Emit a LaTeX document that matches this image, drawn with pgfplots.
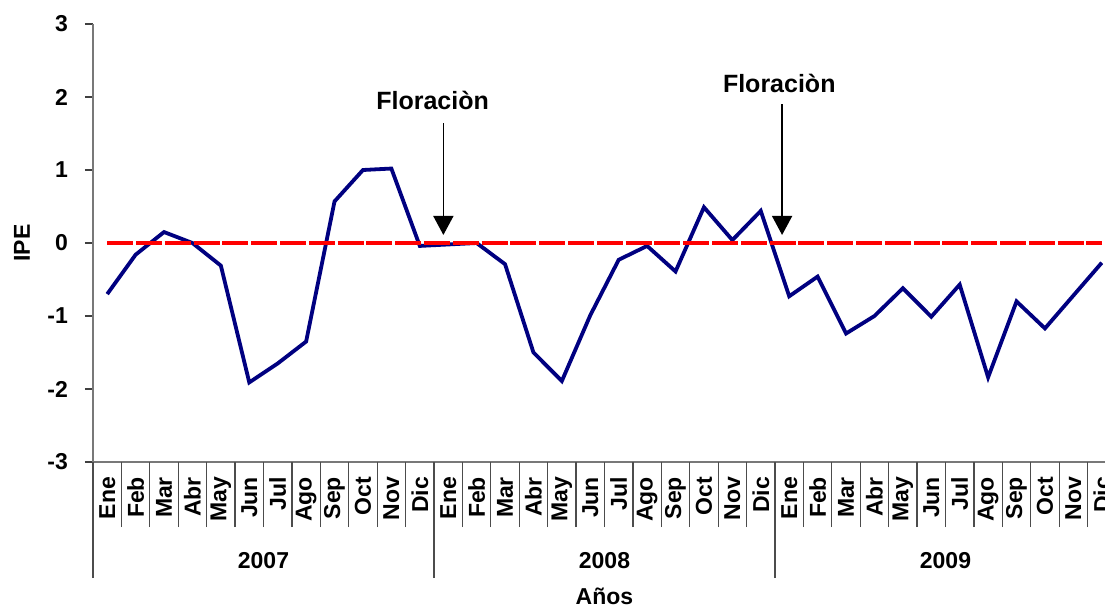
\documentclass[border=0pt]{standalone}
\usepackage{fontspec}
\setmainfont{Liberation Sans}
\usepackage{pgfplots}
\pgfplotsset{compat=1.18}
\usetikzlibrary{arrows.meta}

\definecolor{navyline}{RGB}{0,0,128}
\definecolor{axgray}{RGB}{120,120,120}

\begin{document}
\begin{tikzpicture}
\begin{axis}[
  scale only axis,
  width=511.5pt, height=219pt,
  xmin=-0.5, xmax=35.5,
  ymin=-3, ymax=3,
  axis lines=left,
  axis line style={-, axgray, line width=0.8pt},
  clip=false,
  ytick={-3,...,3},
  yticklabels={-3,-2,-1,0,1,2,3},
  tick align=outside,
  major tick length=4pt,
  ytick style={black!75, line width=0.6pt},
  yticklabel style={font=\bfseries\fontsize{11.5}{13}\selectfont, xshift=-5pt},
  xtick={0,...,35},
  xticklabels={Ene,Feb,Mar,Abr,May,Jun,Jul,Ago,Sep,Oct,Nov,Dic,
               Ene,Feb,Mar,Abr,May,Jun,Jul,Ago,Sep,Oct,Nov,Dic,
               Ene,Feb,Mar,Abr,May,Jun,Jul,Ago,Sep,Oct,Nov,Dic},
  xtick style={draw=none},
  xticklabel style={rotate=90, anchor=east, font=\bfseries\fontsize{11.5}{13}\selectfont},
  extra x ticks={-0.5,0.5,...,35.5},
  extra x tick labels={},
  extra x tick style={major tick length=32.5pt,
    every x tick/.style={draw=black!70, line width=0.6pt}},
  minor xtick={-0.5,11.5,23.5,35.5},
  minor tick length=58pt,
  minor x tick style={draw=black!70, line width=0.6pt},
]
\addplot[navyline, line width=1.9pt, line join=miter] coordinates {
(0,-0.70) (1,-0.16) (2,0.15) (3,0.00) (4,-0.31) (5,-1.91)
(6,-1.65) (7,-1.35) (8,0.57) (9,1.00) (10,1.02) (11,-0.04)
(12,-0.02) (13,0.00) (14,-0.29) (15,-1.50) (16,-1.89) (17,-0.99)
(18,-0.23) (19,-0.04) (20,-0.39) (21,0.49) (22,0.04) (23,0.44)
(24,-0.73) (25,-0.46) (26,-1.24) (27,-1.00) (28,-0.62) (29,-1.01)
(30,-0.57) (31,-1.84) (32,-0.80) (33,-1.17) (34,-0.72) (35,-0.27)
};
\addplot[red, line width=1.9pt, dash pattern=on 13pt off 1.4pt] coordinates {(0,0) (35,0)};

% flowering marks
\draw[line width=0.8pt, -{Triangle[width=10pt, length=9.5pt]}] (axis cs:11.83,1.64) -- (axis cs:11.83,0.11);
\draw[line width=0.8pt, -{Triangle[width=10pt, length=9.5pt]}] (axis cs:23.75,1.90) -- (axis cs:23.75,0.11);
\node[font=\bfseries\fontsize{12.5}{14}\selectfont] at (axis cs:11.45,1.95) {Floraciòn};
\node[font=\bfseries\fontsize{12.5}{14}\selectfont] at (axis cs:23.65,2.19) {Floraciòn};

% years and axis titles
\node[font=\bfseries\fontsize{11.5}{13}\selectfont] at ([yshift=-49.25pt]axis cs:5.5,-3) {2007};
\node[font=\bfseries\fontsize{11.5}{13}\selectfont] at ([yshift=-49.25pt]axis cs:17.5,-3) {2008};
\node[font=\bfseries\fontsize{11.5}{13}\selectfont] at ([yshift=-49.25pt]axis cs:29.5,-3) {2009};
\node[font=\bfseries\fontsize{11.5}{13}\selectfont] at ([yshift=-67pt]axis description cs:0.5,0) {Años};
\node[rotate=90, font=\bfseries\fontsize{11.5}{13}\selectfont] at ([xshift=-35.5pt]axis description cs:0,0.5) {IPE};
\end{axis}
\pgfresetboundingbox
\path[use as bounding box] (-46.5pt,-71.5pt) rectangle (506pt,231pt);
\end{tikzpicture}
\end{document}
